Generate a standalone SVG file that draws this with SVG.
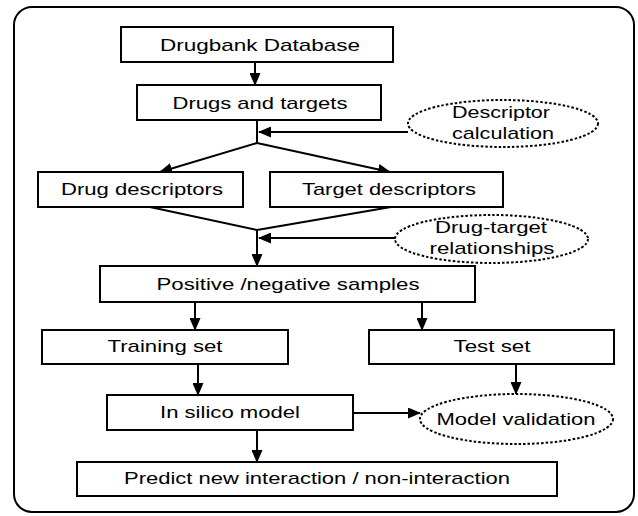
<svg xmlns="http://www.w3.org/2000/svg" width="638" height="516" viewBox="0 0 638 516">
<style>
.box{fill:#fff;stroke:#000;stroke-width:2}
.ell{fill:#fff;stroke:#000;stroke-width:2;stroke-dasharray:2.5 2}
.t{font-family:"Liberation Sans",Arial,sans-serif;font-size:17px;fill:#000;text-anchor:middle}
.c{stroke:#000;stroke-width:2;fill:none}
</style>
<defs>
<marker id="ah" markerWidth="13" markerHeight="11" refX="12" refY="5.5" orient="auto" markerUnits="userSpaceOnUse">
<path d="M0,0 L13,5.5 L0,11 Z" fill="#000"/>
</marker>
</defs>
<rect x="0" y="0" width="638" height="516" fill="#fff"/>
<rect x="14" y="7" width="620" height="505" rx="18" ry="18" fill="none" stroke="#000" stroke-width="2"/>
<g id="connectors">
<line class="c" x1="255" y1="62" x2="255" y2="85" marker-end="url(#ah)"/>
<line class="c" x1="257" y1="120" x2="257" y2="143"/>
<line class="c" x1="408" y1="132" x2="259" y2="132" marker-end="url(#ah)"/>
<line class="c" x1="257" y1="143" x2="160" y2="172" marker-end="url(#ah)"/>
<line class="c" x1="257" y1="143" x2="390" y2="172" marker-end="url(#ah)"/>
<line class="c" x1="150" y1="207" x2="257" y2="230"/>
<line class="c" x1="391" y1="207" x2="257" y2="230"/>
<line class="c" x1="257" y1="230" x2="257" y2="266" marker-end="url(#ah)"/>
<line class="c" x1="395" y1="238" x2="259" y2="238" marker-end="url(#ah)"/>
<line class="c" x1="195" y1="302" x2="195" y2="330" marker-end="url(#ah)"/>
<line class="c" x1="422" y1="302" x2="422" y2="330" marker-end="url(#ah)"/>
<line class="c" x1="198" y1="364" x2="198" y2="395" marker-end="url(#ah)"/>
<line class="c" x1="516" y1="364" x2="516" y2="394" marker-end="url(#ah)"/>
<line class="c" x1="353" y1="413" x2="420" y2="413" marker-end="url(#ah)"/>
<line class="c" x1="257" y1="430" x2="257" y2="462" marker-end="url(#ah)"/>
</g>
<g id="drugbank"><rect class="box" x="121" y="27" width="272" height="35"/><text class="t" x="260" y="51" textLength="200" lengthAdjust="spacingAndGlyphs">Drugbank Database</text></g>
<g id="drugs-targets"><rect class="box" x="137" y="85" width="244" height="35"/><text class="t" x="260" y="109" textLength="175" lengthAdjust="spacingAndGlyphs">Drugs and targets</text></g>
<g id="descriptor-calc"><ellipse class="ell" cx="503" cy="123.5" rx="95" ry="23.5"/><text class="t" x="501" y="118" textLength="98" lengthAdjust="spacingAndGlyphs">Descriptor</text><text class="t" x="503" y="139" textLength="102" lengthAdjust="spacingAndGlyphs">calculation</text></g>
<g id="drug-desc"><rect class="box" x="38" y="172" width="205" height="35"/><text class="t" x="142" y="195" textLength="162" lengthAdjust="spacingAndGlyphs">Drug descriptors</text></g>
<g id="target-desc"><rect class="box" x="270" y="172" width="233" height="35"/><text class="t" x="389" y="195" textLength="174" lengthAdjust="spacingAndGlyphs">Target descriptors</text></g>
<g id="drug-target-rel"><ellipse class="ell" cx="491.5" cy="239" rx="96.5" ry="24"/><text class="t" x="491" y="233" textLength="112" lengthAdjust="spacingAndGlyphs">Drug-target</text><text class="t" x="492" y="254" textLength="125" lengthAdjust="spacingAndGlyphs">relationships</text></g>
<g id="samples"><rect class="box" x="100" y="266" width="375" height="36"/><text class="t" x="288" y="290" textLength="263" lengthAdjust="spacingAndGlyphs">Positive /negative samples</text></g>
<g id="training"><rect class="box" x="42" y="330" width="246" height="34"/><text class="t" x="165" y="352" textLength="115" lengthAdjust="spacingAndGlyphs">Training set</text></g>
<g id="test"><rect class="box" x="369" y="330" width="245" height="34"/><text class="t" x="492" y="352" textLength="77" lengthAdjust="spacingAndGlyphs">Test set</text></g>
<g id="insilico"><rect class="box" x="107" y="395" width="246" height="35"/><text class="t" x="230" y="418" textLength="140" lengthAdjust="spacingAndGlyphs">In silico model</text></g>
<g id="validation"><ellipse class="ell" cx="516.5" cy="419" rx="96.5" ry="25"/><text class="t" x="516" y="425" textLength="159" lengthAdjust="spacingAndGlyphs">Model validation</text></g>
<g id="predict"><rect class="box" x="77" y="462" width="480" height="34"/><text class="t" x="317" y="484" textLength="386" lengthAdjust="spacingAndGlyphs">Predict new interaction / non-interaction</text></g>
</svg>
